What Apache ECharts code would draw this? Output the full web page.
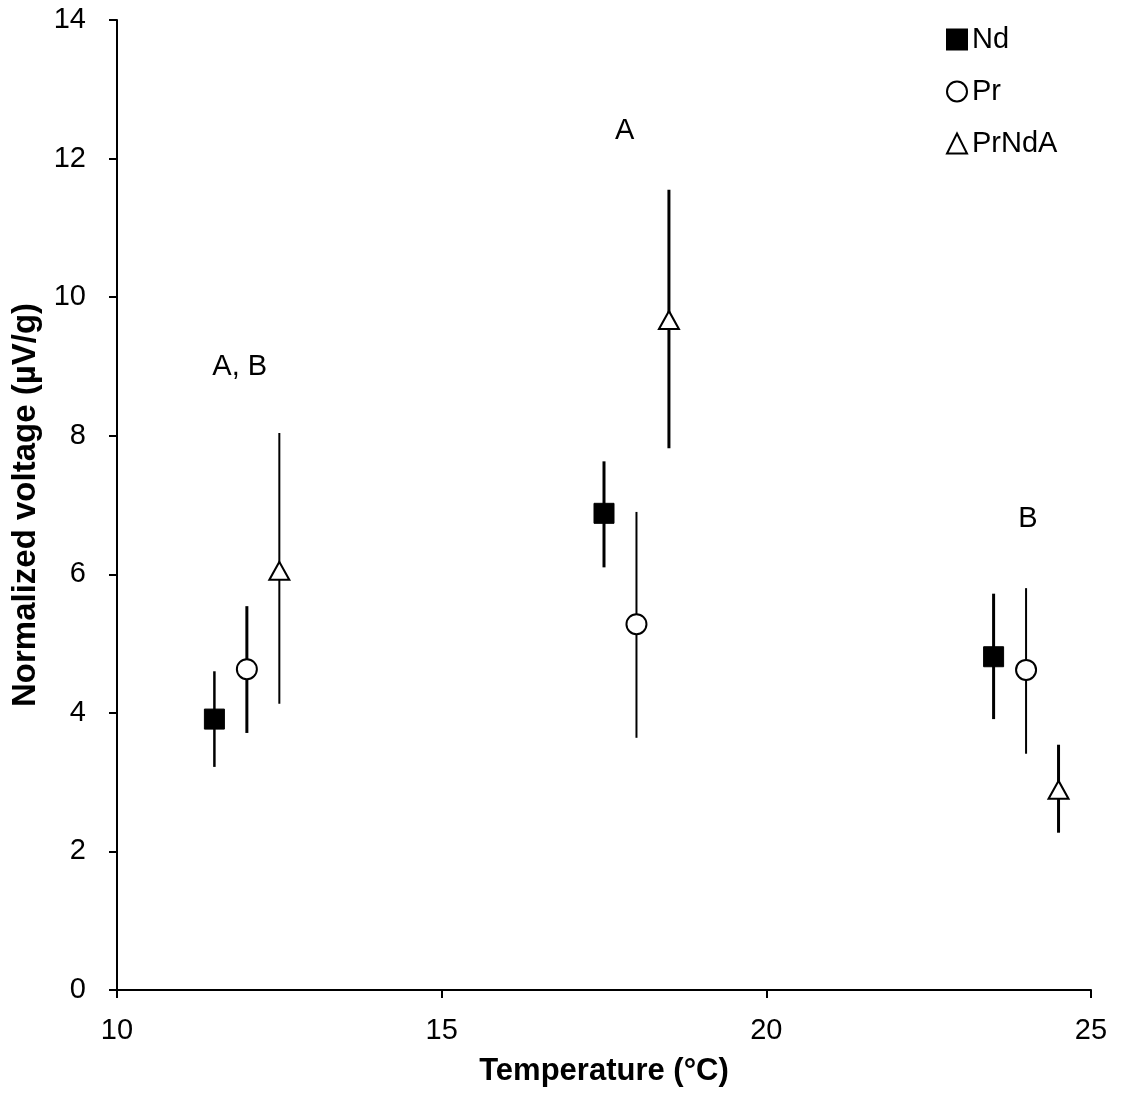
<!DOCTYPE html>
<html>
<head>
<meta charset="utf-8">
<script src="https://cdn.jsdelivr.net/npm/echarts@6/dist/echarts.min.js"></script>
<style>html,body{margin:0;padding:0;background:#fff;width:100%;height:100%;overflow:hidden;}#c{width:100vw;height:100vh;}</style>
</head>
<body>
<div id="c"></div>
<script>
// Data
const ndX = [11.5, 17.5, 23.5];
const ndY = [3.91, 6.88, 4.81];
const ndLo = [3.22, 6.10, 3.91];
const ndHi = [4.60, 7.63, 5.72];

const prX = [12.0, 18.0, 24.0];
const prY = [4.63, 5.28, 4.62];
const prLo = [3.71, 3.64, 3.41];
const prHi = [5.54, 6.90, 5.80];

const prndaX = [12.5, 18.5, 24.5];
const prndaY = [6.05, 9.67, 2.89];
const prndaLo = [4.13, 7.82, 2.27];
const prndaHi = [8.04, 11.55, 3.54];

const annotText = ['A, B', 'A', 'B'];
const annotX = [11.89, 17.82, 24.03];
const annotY = [8.99, 12.40, 6.80];

// styling (not data)
const barWidths = {Nd: [2.5, 3, 3], Pr: [3, 2, 2], PrNdA: [2, 3, 3]};

const font = 'Liberation Sans, Arial, sans-serif';

function pts(xs, ys) { return xs.map((x, i) => [x, ys[i]]); }
function bars(xs, lo, hi) { return xs.map((x, i) => [x, lo[i], hi[i]]); }

function errSeries(name, xs, lo, hi) {
  const widths = barWidths[name];
  return {
    type: 'custom',
    name: name + '_err',
    z: 1,
    silent: true,
    data: bars(xs, lo, hi),
    encode: {x: 0, y: [1, 2]},
    renderItem: function (params, api) {
      const p1 = api.coord([api.value(0), api.value(1)]);
      const p2 = api.coord([api.value(0), api.value(2)]);
      return {
        type: 'line',
        shape: {x1: p1[0], y1: p1[1], x2: p2[0], y2: p2[1]},
        style: {stroke: '#000', lineWidth: widths[params.dataIndex]}
      };
    }
  };
}

const chart = echarts.init(document.getElementById('c'));
chart.setOption({
  animation: false,
  backgroundColor: '#fff',
  grid: {left: 117, right: 30, top: 20, bottom: 103, containLabel: false},
  legend: {
    orient: 'vertical',
    left: 941,
    top: 20,
    itemWidth: 20,
    itemHeight: 20,
    itemGap: 23,
    textStyle: {fontFamily: font, fontSize: 29, color: '#000'},
    data: ['Nd', 'Pr', 'PrNdA']
  },
  xAxis: {
    type: 'value',
    min: 10, max: 25, interval: 5,
    name: 'Temperature (°C)',
    nameLocation: 'middle',
    nameGap: 66,
    nameTextStyle: {fontFamily: font, fontSize: 31, fontWeight: 'bold', color: '#000'},
    axisLine: {show: true, onZero: false, lineStyle: {color: '#000', width: 2}},
    axisTick: {show: true, length: 8, inside: false, lineStyle: {color: '#000', width: 2}},
    axisLabel: {fontFamily: font, fontSize: 29, color: '#000', margin: 26},
    splitLine: {show: false}
  },
  yAxis: {
    type: 'value',
    min: 0, max: 14, interval: 2,
    name: 'Normalized voltage (µV/g)',
    nameLocation: 'middle',
    nameGap: 73,
    nameTextStyle: {fontFamily: font, fontSize: 33, fontWeight: 'bold', color: '#000'},
    axisLine: {show: true, onZero: false, lineStyle: {color: '#000', width: 2}},
    axisTick: {show: true, length: 8, inside: false, lineStyle: {color: '#000', width: 2}},
    axisLabel: {fontFamily: font, fontSize: 29, color: '#000', margin: 31},
    splitLine: {show: false}
  },
  series: [
    errSeries('Nd', ndX, ndLo, ndHi),
    errSeries('Pr', prX, prLo, prHi),
    errSeries('PrNdA', prndaX, prndaLo, prndaHi),
    {
      type: 'scatter', name: 'Nd', z: 3,
      symbol: 'rect', symbolSize: 20,
      itemStyle: {color: '#000', borderColor: '#000', borderWidth: 1, opacity: 1},
      data: pts(ndX, ndY)
    },
    {
      type: 'scatter', name: 'Pr', z: 3,
      symbol: 'circle', symbolSize: 20,
      itemStyle: {color: '#fff', borderColor: '#000', borderWidth: 2, opacity: 1},
      data: pts(prX, prY)
    },
    {
      type: 'scatter', name: 'PrNdA', z: 3,
      symbol: 'triangle', symbolSize: [20, 18],
      itemStyle: {color: '#fff', borderColor: '#000', borderWidth: 2, opacity: 1},
      data: pts(prndaX, prndaY)
    },
    {
      type: 'custom', name: 'annot', z: 4, silent: true,
      data: pts(annotX, annotY),
      encode: {x: 0, y: 1},
      renderItem: function (params, api) {
        const p = api.coord([api.value(0), api.value(1)]);
        return {
          type: 'text',
          x: p[0], y: p[1],
          style: {
            text: annotText[params.dataIndex],
            fill: '#000',
            font: '29px ' + font,
            align: 'center',
            verticalAlign: 'middle'
          }
        };
      }
    }
  ]
});
</script>
</body>
</html>
